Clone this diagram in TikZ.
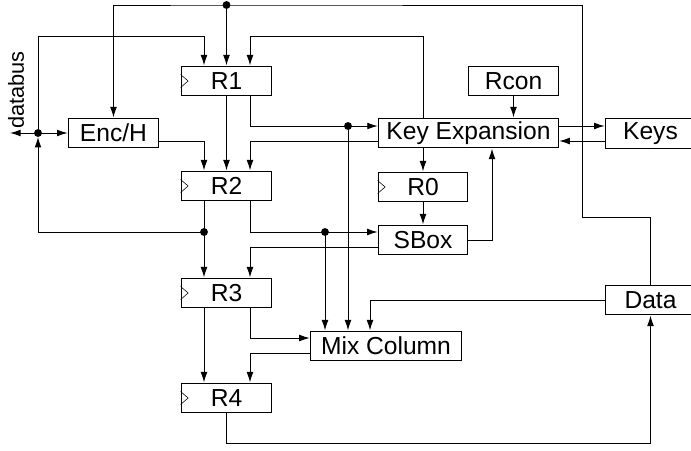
\documentclass[tikz,border=0pt]{standalone}
\usepackage{fontspec}
\setmainfont{Liberation Sans}
\usetikzlibrary{arrows.meta}

\begin{document}
\begin{tikzpicture}[x=0.025cm, y=-0.025cm, line width=0.7pt,
    >={Latex[length=7.5pt,width=4.8pt]},
    blk/.style={draw, minimum width=64.5pt, minimum height=21.3pt, inner sep=0pt,
        font=\fontsize{17.5}{19}\selectfont}]
    \useasboundingbox (0,0) rectangle (691,450);

    \node[blk] (R1) at (226.5,81) {R1};
    \node[blk] (encH) at (113.5,133) {Enc/H};
    \node[blk] (R2) at (226.5,186) {R2};
    \node[blk] (R3) at (226.5,293) {R3};
    \node[blk] (R4) at (226.5,398) {R4};
    \node[blk] (rcon) at (513.5,81) {Rcon};
    \node[blk, minimum width=128.3pt] (keyexp) at (468.5,133) {Key Expansion};
    \node[blk] (keys) at (650.5,133.5) {Keys};
    \node[blk, minimum width=63.8pt] (R0) at (423,187) {R0};
    \node[blk, minimum width=63.8pt] (sbox) at (423,240) {SBox};
    \node[blk] (data) at (650.5,300) {Data};
    \node[blk, minimum width=107.7pt] (mixcol) at (386,346) {Mix Column};
    \node[rotate=90, font=\fontsize{15.5}{17}\selectfont] (dbus) at (16,90) {databus};

    \coordinate (cL) at (204,0);
    \coordinate (cR) at (250,0);
    \coordinate (cD) at (370,0);
    \coordinate (cS) at (492,0);
    \coordinate (rowA) at (0,36);
    \coordinate (rowB) at (0,126);
    \coordinate (rowC) at (0,141);
    \coordinate (rowD) at (0,232);
    \coordinate (rowE) at (0,247);
    \coordinate (rowF) at (0,338);
    \coordinate (rowG) at (0,353);
    \coordinate (rowH) at (0,443);
    \coordinate (turn) at (582,217);
    \coordinate (busend) at (10,133);
    \coordinate (topdot) at (226.5,5);
    \coordinate (bus) at (38,133);
    \coordinate (dotB) at (204,232);
    \coordinate (dotC) at (348,126);
    \coordinate (dotD) at (325,232);

    \foreach \r in {R0,R1,R2,R3,R4}
        \draw[line width=0.4pt] ([yshift=4.6pt]\r.west) -- ([xshift=5.3pt]\r.west) -- ([yshift=-4.6pt]\r.west);

    \draw[->] (data.north) |- (turn) |- (topdot) -| (encH.north);
    \draw[->] (topdot) -- (R1.north);
    \draw[->] (bus) -- (busend);
    \draw[->] (bus) -- (encH.west);
    \draw[->] (bus) |- (rowA -| cL) -- (R1.north -| cL);
    \draw[->, shorten >=2.8pt] (dotB) -| (bus);
    \draw[->] (keyexp.north -| R0) |- (rowA -| cR) -- (R1.north -| cR);
    \draw[->] (R1.south) -- (R2.north);
    \draw[->] (R1.south -| cR) |- (keyexp.west |- rowB);
    \draw[->] (dotC) -- (mixcol.north -| dotC);
    \draw[->] (keyexp.west |- rowC) -| (R2.north -| cR);
    \draw[->] (encH.east |- rowC) -| (R2.north -| cL);
    \draw[->] (R2.south -| cL) -- (R3.north -| cL);
    \draw[->] (R2.south -| cR) |- (sbox.west |- rowD);
    \draw[->] (dotD) -- (mixcol.north -| dotD);
    \draw[->] (sbox.west |- rowE) -| (R3.north -| cR);
    \draw[->] (keyexp.south -| R0) -- (R0.north);
    \draw[->] (R0.south) -- (sbox.north);
    \draw[->] (sbox.east) -| (keyexp.south -| cS);
    \draw[->] (rcon.south) -- (keyexp.north -| rcon);
    \draw[->] (keyexp.east |- rowB) -- (keys.west |- rowB);
    \draw[->] (keys.west |- rowC) -- (keyexp.east |- rowC);
    \draw[->] (R3.south -| cL) -- (R4.north -| cL);
    \draw[->] (R3.south -| cR) |- (mixcol.west |- rowF);
    \draw[->] (mixcol.west |- rowG) -| (R4.north -| cR);
    \draw[->] (data.west) -| (mixcol.north -| cD);
    \draw[->] (R4.south) |- (rowH -| data) -- (data.south);

    \foreach \j in {topdot,bus,dotB,dotC,dotD}
        \fill (\j) circle (2.8pt);
\end{tikzpicture}
\end{document}
